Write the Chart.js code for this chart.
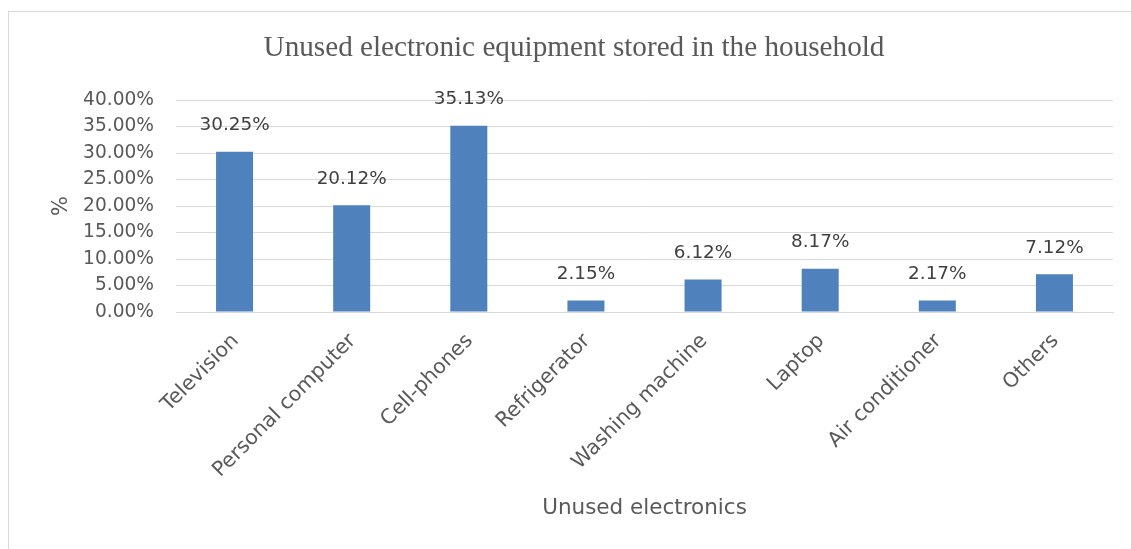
<!DOCTYPE html>
<html>
<head>
<meta charset="utf-8">
<script src="https://cdn.jsdelivr.net/npm/chart.js@4.4.1/dist/chart.umd.min.js"></script>
<style>
  html, body { margin: 0; padding: 0; background: #ffffff; }
  #wrap { width: 1131px; height: 549px; position: relative; }
</style>
</head>
<body>
<div id="wrap"><canvas id="c" width="1131" height="549"></canvas></div>
<script>
const categories = ['Television', 'Personal computer', 'Cell-phones', 'Refrigerator',
  'Washing machine', 'Laptop', 'Air conditioner', 'Others'];
const shares = [30.25, 20.12, 35.13, 2.15, 6.12, 8.17, 2.17, 7.12];
const yTicks = [0, 5, 10, 15, 20, 25, 30, 35, 40];

const chartTitle = 'Unused electronic equipment stored in the household';
const xTitle = 'Unused electronics';
const yTitle = '%';

const sansFont = "'DejaVu Sans', 'Open Sans', sans-serif";
const textGrey = '#595959';

// Outer frame around the chart
const framePlugin = {
  id: 'frame',
  beforeDraw(chart) {
    const ctx = chart.ctx;
    ctx.save();
    ctx.fillStyle = '#ffffff';
    ctx.fillRect(0, 0, chart.width, chart.height);
    ctx.strokeStyle = '#d9d9d9';
    ctx.lineWidth = 1;
    ctx.strokeRect(8.5, 11.5, chart.width + 20, chart.height + 20);
    ctx.restore();
  }
};

// Percentage labels above each bar
const valueLabels = {
  id: 'valueLabels',
  afterDatasetsDraw(chart) {
    const ctx = chart.ctx;
    const meta = chart.getDatasetMeta(0);
    ctx.save();
    ctx.font = `18.4px ${sansFont}`;
    ctx.fillStyle = '#404040';
    ctx.textAlign = 'center';
    ctx.textBaseline = 'middle';
    meta.data.forEach((bar, i) => {
      ctx.fillText(shares[i].toFixed(2) + '%', bar.x, bar.y - 26.5);
    });
    ctx.restore();
  }
};

new Chart(document.getElementById('c'), {
  type: 'bar',
  data: {
    labels: categories,
    datasets: [{
      data: shares,
      backgroundColor: '#4f81bd',
      borderWidth: 0,
      categoryPercentage: 1,
      barPercentage: 0.316
    }]
  },
  options: {
    responsive: false,
    animation: false,
    devicePixelRatio: 1,
    layout: { padding: { left: 35, right: 18, top: 30.6, bottom: 15 } },
    plugins: {
      legend: { display: false },
      tooltip: { enabled: false },
      title: {
        display: true,
        text: chartTitle,
        color: textGrey,
        font: { family: "'Liberation Serif', 'Times New Roman', serif", size: 29.2, weight: 'normal', lineHeight: 1.2 },
        padding: { top: 0, bottom: 34.36 }
      }
    },
    scales: {
      x: {
        grid: { display: false, drawTicks: false },
        border: { display: true, color: '#d9d9d9', width: 1 },
        ticks: {
          color: textGrey,
          font: { family: sansFont, size: 20.5 },
          minRotation: 45,
          maxRotation: 45,
          autoSkip: false,
          padding: 17,
          labelOffset: 1
        },
        title: {
          display: true,
          text: xTitle,
          color: textGrey,
          font: { family: sansFont, size: 21.5 },
          padding: { top: 0, bottom: 13 }
        },
        afterFit(scale) { scale.height = 222; }
      },
      y: {
        min: 0,
        max: 40,
        afterBuildTicks(scale) { scale.ticks = yTicks.map(v => ({ value: v })); },
        grid: { color: '#d9d9d9', lineWidth: 1, drawTicks: false },
        border: { display: false },
        ticks: {
          color: textGrey,
          font: { family: sansFont, size: 18.6 },
          padding: 22,
          callback: v => Number(v).toFixed(2) + '%'
        },
        title: {
          display: true,
          text: yTitle,
          color: textGrey,
          font: { family: sansFont, size: 21 },
          padding: { top: 14, bottom: 0 }
        },
        afterFit(scale) { scale.width = 141; }
      }
    }
  },
  plugins: [framePlugin, valueLabels]
});
</script>
</body>
</html>
